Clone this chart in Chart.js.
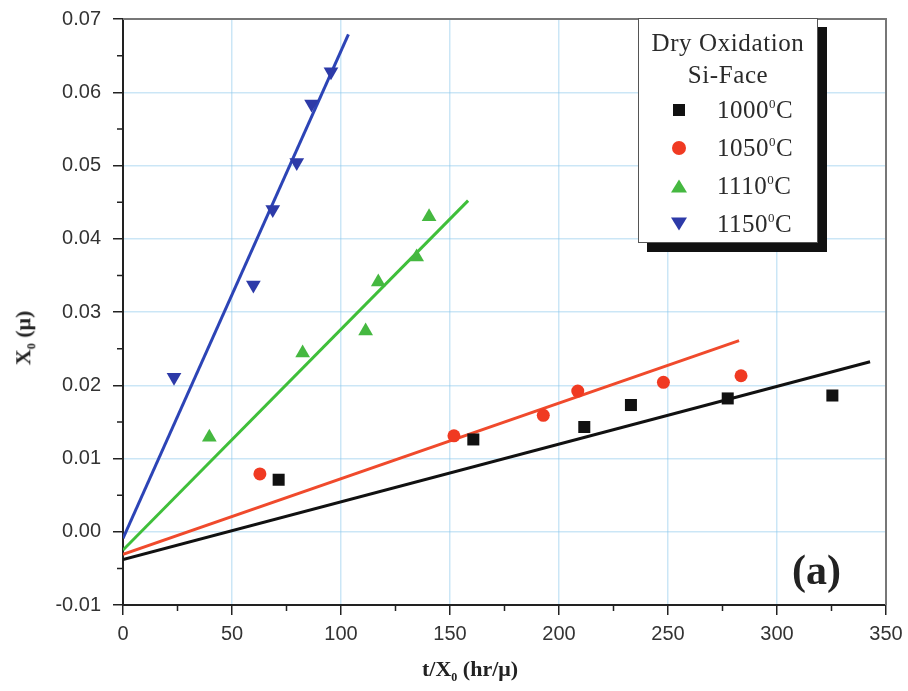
<!DOCTYPE html>
<html>
<head>
<meta charset="utf-8">
<script src="https://cdn.jsdelivr.net/npm/chart.js@4/dist/chart.umd.min.js"></script>
<style>
  html, body { margin: 0; padding: 0; background: #fff; }
  #wrap { position: relative; width: 908px; height: 691px; }
  #legendBox {
    position: absolute; left: 638px; top: 18px; width: 178px; height: 223px;
    background: #fff; border: 1px solid #555;
    box-shadow: 9px 9px 0 #111;
    font-family: "Liberation Serif", "DejaVu Serif", serif; color: #2a2a2a;
  }
  #legendBox .ttl { text-align: center; font-size: 25px; line-height: 32px; letter-spacing: 0.6px; }
  #legendBox .row { position: relative; height: 38px; font-size: 25px; line-height: 38px; padding-left: 78px; letter-spacing: 0.5px; }
  #legendBox .row sup { font-size: 13px; vertical-align: 10px; line-height: 0; }
  #legendBox .mk { position: absolute; left: 40px; top: 50%; transform: translate(-50%, -50%); }
  .sq { width: 12px; height: 12px; background: #111; }
  .ci { width: 14px; height: 14px; border-radius: 50%; background: #f03a22; }
  .tu { width: 0; height: 0; border-left: 8px solid transparent; border-right: 8px solid transparent; border-bottom: 13px solid #45b840; }
  .td { width: 0; height: 0; border-left: 8px solid transparent; border-right: 8px solid transparent; border-top: 13px solid #2d3aa8; }
  .axt { position: absolute; font-family: "Liberation Serif", "DejaVu Serif", serif; font-weight: bold; font-size: 22px; color: #222; white-space: nowrap; }
  .axt sub { font-size: 12px; }
  #xTitle { left: 422px; top: 656px; }
  #yTitle { left: 25px; top: 338px; transform: translate(-50%, -50%) rotate(-90deg); }
  #panel { position: absolute; left: 792px; top: 546px; font-family: "Liberation Serif", serif; font-weight: bold; font-size: 42px; color: #222; }
</style>
</head>
<body>
<div id="wrap">
  <canvas id="chart" width="908" height="691"></canvas>
  <div id="legendBox">
    <div class="ttl" style="margin-top:8px">Dry Oxidation</div>
    <div class="ttl">Si-Face</div>
    <div class="row"><span class="mk sq"></span>1000<sup>0</sup>C</div>
    <div class="row"><span class="mk ci"></span>1050<sup>0</sup>C</div>
    <div class="row"><span class="mk tu"></span>1110<sup>0</sup>C</div>
    <div class="row"><span class="mk td"></span>1150<sup>0</sup>C</div>
  </div>
  <div class="axt" id="xTitle">t/X<sub>0</sub> (hr/&mu;)</div>
  <div class="axt" id="yTitle">X<sub>0</sub> (&mu;)</div>
  <div id="panel">(a)</div>
</div>
<script>
// measured points, t/X0 (hr/u) vs X0 (u)
const x1000 = [71.4, 160.7, 211.6, 233.0, 277.4, 325.4];
const y1000 = [0.0071, 0.0126, 0.0143, 0.0173, 0.0182, 0.0186];
const x1050 = [62.8, 151.8, 192.8, 208.6, 247.9, 283.5];
const y1050 = [0.0079, 0.0131, 0.0159, 0.0192, 0.0204, 0.0213];
const x1110 = [39.6, 82.4, 111.3, 117.1, 134.7, 140.4];
const y1110 = [0.0129, 0.0244, 0.0274, 0.0341, 0.0375, 0.0430];
const x1150 = [23.4, 59.8, 68.7, 79.7, 86.5, 95.4];
const y1150 = [0.0211, 0.0337, 0.0440, 0.0504, 0.0584, 0.0628];

// linear fit lines (start / end)
const fitX1000 = [0, 342.7], fitY1000 = [-0.0038, 0.0232];
const fitX1050 = [0, 282.6], fitY1050 = [-0.0031, 0.0261];
const fitX1110 = [0, 158.3], fitY1110 = [-0.0025, 0.0452];
const fitX1150 = [0, 103.4], fitY1150 = [-0.0009, 0.0679];

const xTicks = [0, 50, 100, 150, 200, 250, 300, 350];
const yTicks = [-0.01, 0.00, 0.01, 0.02, 0.03, 0.04, 0.05, 0.06, 0.07];

const pts = (xs, ys) => xs.map((x, i) => ({ x: x, y: ys[i] }));

// minor ticks + top/right frame
const framePlugin = {
  id: 'frame',
  afterDraw(chart) {
    const c = chart.ctx, a = chart.chartArea;
    const xs = chart.scales.x, ys = chart.scales.y;
    c.save();
    c.strokeStyle = '#777';
    c.lineWidth = 2;
    c.beginPath();
    c.moveTo(a.left, a.top); c.lineTo(a.right, a.top); c.lineTo(a.right, a.bottom);
    c.stroke();
    c.strokeStyle = '#222';
    c.lineWidth = 1.5;
    c.beginPath();
    for (let i = 0; i < xTicks.length - 1; i++) {
      const px = xs.getPixelForValue((xTicks[i] + xTicks[i + 1]) / 2);
      c.moveTo(px, a.bottom); c.lineTo(px, a.bottom + 6);
    }
    for (let i = 0; i < yTicks.length - 1; i++) {
      const py = ys.getPixelForValue((yTicks[i] + yTicks[i + 1]) / 2);
      c.moveTo(a.left, py); c.lineTo(a.left - 6, py);
    }
    c.stroke();
    c.restore();
  }
};

const gridCol = 'rgba(140,200,235,0.45)';

new Chart(document.getElementById('chart').getContext('2d'), {
  type: 'scatter',
  data: {
    datasets: [
      { data: pts(x1000, y1000), pointStyle: 'rect', pointRadius: 8.5, backgroundColor: '#111', borderWidth: 0, order: 0 },
      { data: pts(x1050, y1050), pointStyle: 'circle', pointRadius: 6.5, backgroundColor: '#f03a22', borderWidth: 0, order: 0 },
      { data: pts(x1110, y1110), pointStyle: 'triangle', pointRadius: 8.5, backgroundColor: '#45b840', borderWidth: 0, order: 0 },
      { data: pts(x1150, y1150), pointStyle: 'triangle', pointRotation: 180, pointRadius: 8.5, backgroundColor: '#2d3aa8', borderWidth: 0, order: 0 },
      { data: pts(fitX1000, fitY1000), showLine: true, pointRadius: 0, borderColor: '#111', borderWidth: 3, order: 1 },
      { data: pts(fitX1050, fitY1050), showLine: true, pointRadius: 0, borderColor: '#f04a2c', borderWidth: 3, order: 1 },
      { data: pts(fitX1110, fitY1110), showLine: true, pointRadius: 0, borderColor: '#3fbf3a', borderWidth: 3, order: 1 },
      { data: pts(fitX1150, fitY1150), showLine: true, pointRadius: 0, borderColor: '#2c44b6', borderWidth: 3, order: 1 }
    ]
  },
  options: {
    responsive: false,
    animation: false,
    events: [],
    layout: { padding: { left: 0, right: 22, top: 19, bottom: 0 } },
    plugins: { legend: { display: false }, tooltip: { enabled: false } },
    scales: {
      x: {
        type: 'linear', min: 0, max: 350,
        afterFit: s => { s.height = 86; s.paddingLeft = 0; s.paddingRight = 0; },
        afterBuildTicks: s => { s.ticks = xTicks.map(v => ({ value: v })); },
        ticks: { color: '#333', font: { family: 'Liberation Sans', size: 20 }, padding: 7, callback: v => String(v) },
        grid: { color: gridCol, lineWidth: 1.5, tickColor: '#222', tickLength: 10, tickWidth: 1.5 },
        border: { color: '#222', width: 2 }
      },
      y: {
        type: 'linear', min: -0.01, max: 0.07,
        afterFit: s => { s.width = 123; s.paddingTop = 0; s.paddingBottom = 0; },
        afterBuildTicks: s => { s.ticks = yTicks.map(v => ({ value: v })); },
        ticks: { color: '#333', font: { family: 'Liberation Sans', size: 20 }, padding: 12, callback: v => v.toFixed(2) },
        grid: { color: gridCol, lineWidth: 1.5, tickColor: '#222', tickLength: 10, tickWidth: 1.5 },
        border: { color: '#222', width: 2 }
      }
    }
  },
  plugins: [framePlugin]
});
</script>
</body>
</html>
